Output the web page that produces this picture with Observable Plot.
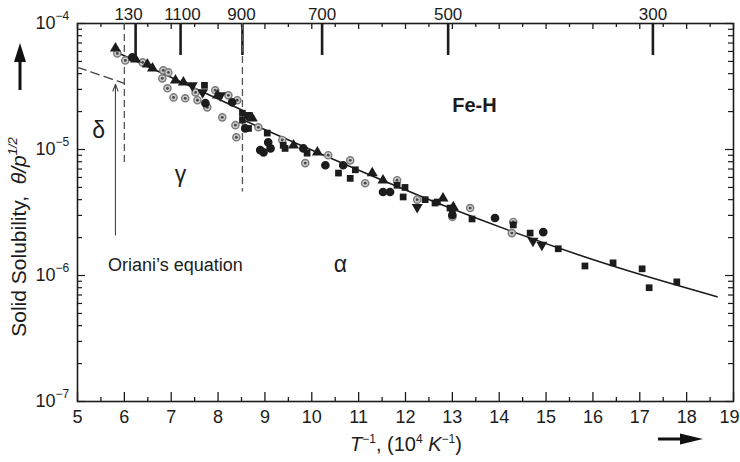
<!DOCTYPE html>
<html>
<head>
<meta charset="utf-8">
<script src="https://cdn.jsdelivr.net/npm/d3@7"></script>
<script src="https://cdn.jsdelivr.net/npm/@observablehq/plot@0.6"></script>
<style>
  html, body { margin: 0; padding: 0; background: #fff; }
</style>
</head>
<body>
<div id="chart"></div>
<script>
// ---------- data (x = 10^4/T, y = solubility) ----------
const ringedCircles = [
  [5.85, 5.79e-5], [6.02, 5.09e-5], [6.39, 4.91e-5], [6.83, 4.25e-5], [6.94, 4.09e-5],
  [6.81, 3.67e-5], [6.92, 3.06e-5], [7.05, 2.59e-5], [7.30, 2.55e-5], [7.56, 2.46e-5],
  [7.52, 2.84e-5], [7.94, 2.95e-5], [7.77, 2.16e-5], [8.09, 1.80e-5], [8.41, 2.46e-5],
  [8.22, 2.69e-5], [8.37, 1.56e-5], [8.39, 1.25e-5], [8.86, 1.50e-5], [9.37, 1.19e-5],
  [9.86, 7.8e-6], [10.35, 9.0e-6], [10.82, 8.2e-6], [11.82, 5.7e-6], [12.25, 4.0e-6],
  [13.38, 3.43e-6], [13.00, 2.91e-6], [14.30, 2.66e-6], [14.27, 2.17e-6], [11.14, 5.4e-6]
];
const blackCircles = [
  [6.17, 5.38e-5], [7.73, 2.33e-5], [8.30, 2.37e-5], [8.58, 1.47e-5], [8.90, 9.9e-6],
  [8.97, 9.5e-6], [9.82, 1.02e-5], [10.29, 7.5e-6], [10.67, 7.5e-6], [11.52, 4.6e-6],
  [11.67, 4.6e-6], [13.00, 3.02e-6], [13.91, 2.86e-6], [14.94, 2.21e-6], [9.12, 1.02e-5],
  [9.07, 1.14e-5]
];
const trianglesUp = [
  [5.81, 6.34e-5], [6.24, 5.19e-5], [6.60, 4.40e-5], [7.09, 3.54e-5], [7.26, 3.41e-5],
  [7.99, 2.69e-5], [8.73, 1.77e-5], [9.61, 1.08e-5], [10.12, 9.5e-6], [11.29, 6.5e-6],
  [11.52, 5.7e-6], [12.80, 4.1e-6], [13.02, 3.49e-6], [6.49, 4.74e-5]
];
const trianglesDown = [
  [7.67, 2.84e-5], [7.45, 3.23e-5], [8.05, 2.69e-5], [12.25, 3.49e-6], [14.91, 1.75e-6],
  [14.72, 1.88e-6], [8.62, 1.87e-5]
];
const squares = [
  [7.71, 3.23e-5], [8.52, 1.94e-5], [8.52, 1.71e-5], [8.65, 1.47e-5], [9.05, 1.35e-5],
  [9.39, 1.08e-5], [9.43, 1.02e-5], [9.90, 9.35e-6], [10.57, 6.5e-6], [10.82, 5.9e-6],
  [10.93, 6.9e-6], [11.82, 5.2e-6], [11.99, 5.0e-6], [11.95, 4.2e-6], [12.42, 4.0e-6],
  [12.68, 3.83e-6], [12.95, 3.43e-6], [13.00, 3.19e-6], [13.42, 2.81e-6], [14.30, 2.52e-6],
  [14.66, 2.17e-6], [15.26, 1.63e-6], [15.83, 1.19e-6], [16.43, 1.26e-6], [17.05, 1.13e-6],
  [17.20, 0.80e-6], [17.79, 0.89e-6], [12.63, 3.76e-6]
];
const gammaFit = [[5.85, 5.89e-5], [8.52, 2.05e-5]];
const alphaFit = [[8.54, 1.71e-5], [9.97, 1.0e-5], [12.95, 3.43e-6], [16.36, 1.21e-6], [18.65, 6.78e-7]];
const orianiLine = [[5.0, 4.49e-5], [6.0, 3.35e-5]];
const orianiArrow = [{x: 5.81, y1: 2.1e-6, y2: 3.3e-5}];
const phaseBounds = [{x: 6.0, yEnd: 7.8e-6}, {x: 8.52, yEnd: 4.6e-6}];

// ---------- axes / labels ----------
const xTickValues = [5, 6, 7, 8, 9, 10, 11, 12, 13, 14, 15, 16, 17, 18, 19];
const xHalfTicks = [5.5, 6.5, 7.5, 8.5, 9.5, 10.5, 11.5, 12.5, 13.5, 14.5, 15.5, 16.5, 17.5, 18.5];
const yDecades = [1e-7, 1e-6, 1e-5, 1e-4];
const yDecadeExponents = ["−7", "−6", "−5", "−4"];
const yMinorMultipliers = [2, 3, 4, 5, 6, 7, 8, 9];
const topTickX = [6.24, 7.20, 8.52, 10.22, 12.91, 17.28];
const topLabels = ["130", "1100", "900", "700", "500", "300"];
const topLabelX = [6.09, 7.24, 8.50, 10.22, 12.91, 17.28];
const greekLabels = [{t: "δ", x: 5.45, y: 1.42e-5}, {t: "γ", x: 7.20, y: 6.27e-6}, {t: "α", x: 10.61, y: 1.21e-6}];
const systemLabel = [{t: "Fe-H", x: 13.47, y: 2.24e-5}];
const orianiLabel = [{t: "Oriani’s equation", x: 7.09, y: 1.21e-6}];

const yMinorTicks = [];
for (const d of [1e-7, 1e-6, 1e-5]) for (const m of yMinorMultipliers) yMinorTicks.push(m * d);

const toObj = (arr) => arr.map(([x, y]) => ({x, y}));
const sqrt3 = Math.sqrt(3);
const triangleDown = {
  draw(context, size) {
    const y = -Math.sqrt(size / (sqrt3 * 3));
    context.moveTo(0, -y * 2);
    context.lineTo(-sqrt3 * y, y);
    context.lineTo(sqrt3 * y, y);
    context.closePath();
  }
};
const lastX = xTickValues[xTickValues.length - 1];
const topLabelData = topLabels.map((t, i) => ({t, x: topLabelX[i]}));
const yLabelData = yDecades.map((y, i) => ({y, e: yDecadeExponents[i]}));
const ink = "#1c1c1c";
const font = "Liberation Sans, Arial, Helvetica, sans-serif";

const chart = Plot.plot({
  width: 740,
  height: 462,
  marginLeft: 77,
  marginRight: 7,
  marginTop: 23,
  marginBottom: 61,
  style: {fontFamily: font, fontSize: "18px", background: "#fff", color: ink},
  x: {domain: [5, 19]},
  y: {type: "log", domain: [1e-7, 1e-4], axis: null},
  marks: [
    // axis tick labels
    Plot.axisX({anchor: "bottom", ticks: xTickValues.slice(0, -1), tickSize: 0, tickPadding: 9, tickFormat: d => String(d), label: null, fontSize: 18}),
    Plot.text([lastX], {x: d => d, text: d => String(d), frameAnchor: "bottom", dy: 9, lineAnchor: "top", textAnchor: "end", dx: 6, fontSize: 18, fill: ink}),
    Plot.text(yLabelData, {y: "y", text: () => "10", frameAnchor: "left", textAnchor: "end", dx: -22, fontSize: 18, fill: ink}),
    Plot.text(yLabelData, {y: "y", text: "e", frameAnchor: "left", textAnchor: "start", dx: -22, dy: -7, fontSize: 12, fill: ink}),
    Plot.text(topLabelData, {x: "x", text: "t", frameAnchor: "top", dy: -4, lineAnchor: "bottom", fontSize: 17, fill: ink}),
    // inward ticks
    Plot.ruleX(xTickValues, {x: d => d, y1: 1e-7, y2: 1e-7, insetTop: -9, stroke: ink, strokeWidth: 1.3}),
    Plot.ruleX(xHalfTicks, {x: d => d, y1: 1e-7, y2: 1e-7, insetTop: -4, stroke: ink, strokeWidth: 1.3}),
    Plot.ruleX(xTickValues, {x: d => d, y1: 1e-4, y2: 1e-4, insetBottom: -6, stroke: ink, strokeWidth: 1.3}),
    Plot.ruleX(xHalfTicks, {x: d => d, y1: 1e-4, y2: 1e-4, insetBottom: -4, stroke: ink, strokeWidth: 1.3}),
    Plot.ruleX(topTickX, {x: d => d, y1: 1e-4, y2: 1e-4, insetBottom: -32, stroke: ink, strokeWidth: 2.6}),
    Plot.ruleY(yMinorTicks, {y: d => d, x1: 5, x2: 5, insetRight: -5, stroke: ink, strokeWidth: 1.2}),
    Plot.ruleY(yDecades, {y: d => d, x1: 5, x2: 5, insetRight: -8, stroke: ink, strokeWidth: 1.2}),
    Plot.ruleY(yMinorTicks, {y: d => d, x1: 19, x2: 19, insetLeft: -5, stroke: ink, strokeWidth: 1.2}),
    Plot.ruleY(yDecades, {y: d => d, x1: 19, x2: 19, insetLeft: -8, stroke: ink, strokeWidth: 1.2}),
    Plot.frame({stroke: ink, strokeWidth: 1.6}),
    // phase boundaries and Oriani
    Plot.ruleX(phaseBounds, {x: "x", y1: 1e-4, y2: "yEnd", stroke: "#555", strokeWidth: 1.3, strokeDasharray: "7,4"}),
    Plot.line(toObj(orianiLine), {x: "x", y: "y", stroke: "#444", strokeWidth: 1.3, strokeDasharray: "9,5"}),
    Plot.arrow(orianiArrow, {x1: "x", x2: "x", y1: "y1", y2: "y2", stroke: "#444", strokeWidth: 1.1, headLength: 10, headAngle: 40}),
    // fits
    Plot.line(toObj(gammaFit), {x: "x", y: "y", stroke: ink, strokeWidth: 1.6}),
    Plot.line(toObj(alphaFit), {x: "x", y: "y", stroke: ink, strokeWidth: 1.6, curve: "monotone-x"}),
    // data
    Plot.dot(toObj(ringedCircles), {x: "x", y: "y", r: 3.6, fill: "#c8c8c8", stroke: "#7a7a7a", strokeWidth: 1.4}),
    Plot.dot(toObj(ringedCircles), {x: "x", y: "y", r: 1.4, fill: "#444"}),
    Plot.dot(toObj(blackCircles), {x: "x", y: "y", r: 3.6, fill: ink, stroke: ink}),
    Plot.dot(toObj(trianglesUp), {x: "x", y: "y", r: 4.1, symbol: "triangle", fill: ink}),
    Plot.dot(toObj(trianglesDown), {x: "x", y: "y", r: 4.1, symbol: triangleDown, fill: ink}),
    Plot.dot(toObj(squares), {x: "x", y: "y", r: 3.8, symbol: "square", fill: ink}),
    // annotations
    Plot.text(greekLabels, {x: "x", y: "y", text: "t", fontSize: 23, fill: ink}),
    Plot.text(systemLabel, {x: "x", y: "y", text: "t", fontSize: 20, fontWeight: "bold", fill: ink}),
    Plot.text(orianiLabel, {x: "x", y: "y", text: "t", fontSize: 18, fill: ink})
  ]
});

document.getElementById("chart").appendChild(chart);

// ---------- axis titles and direction arrows ----------
const svg = d3.select(chart);
const deco = svg.append("g").attr("font-family", font).attr("fill", ink);

const yl = deco.append("text")
  .attr("transform", "translate(26,237) rotate(-90)")
  .attr("text-anchor", "middle")
  .attr("font-size", 21);
yl.append("tspan").text("Solid Solubility,  ");
yl.append("tspan").attr("font-style", "italic").text("θ/p");
yl.append("tspan").attr("font-style", "italic").attr("font-size", 13).attr("dy", -9).text("1/2");

const xl = deco.append("text")
  .attr("x", 406).attr("y", 451)
  .attr("text-anchor", "middle")
  .attr("font-size", 20);
xl.append("tspan").attr("font-style", "italic").text("T");
xl.append("tspan").attr("font-size", 12).attr("dy", -8).text("−1");
xl.append("tspan").attr("dy", 8).text(", (10");
xl.append("tspan").attr("font-size", 12).attr("dy", -8).text("4");
xl.append("tspan").attr("dy", 8).text(" ");
xl.append("tspan").attr("font-style", "italic").text("K");
xl.append("tspan").attr("font-size", 12).attr("dy", -8).text("−1");
xl.append("tspan").attr("dy", 8).text(")");

// up arrow (left)
deco.append("path").attr("d", "M20,43 L14,62 L18.5,62 L18.5,90 L21.5,90 L21.5,62 L26,62 Z").attr("fill", "#111");
// right arrow (bottom)
deco.append("path").attr("d", "M703,439 L680,433.5 L680,437.5 L658,437.5 L658,440.5 L680,440.5 L680,444.5 Z").attr("fill", "#111");
</script>
</body>
</html>
